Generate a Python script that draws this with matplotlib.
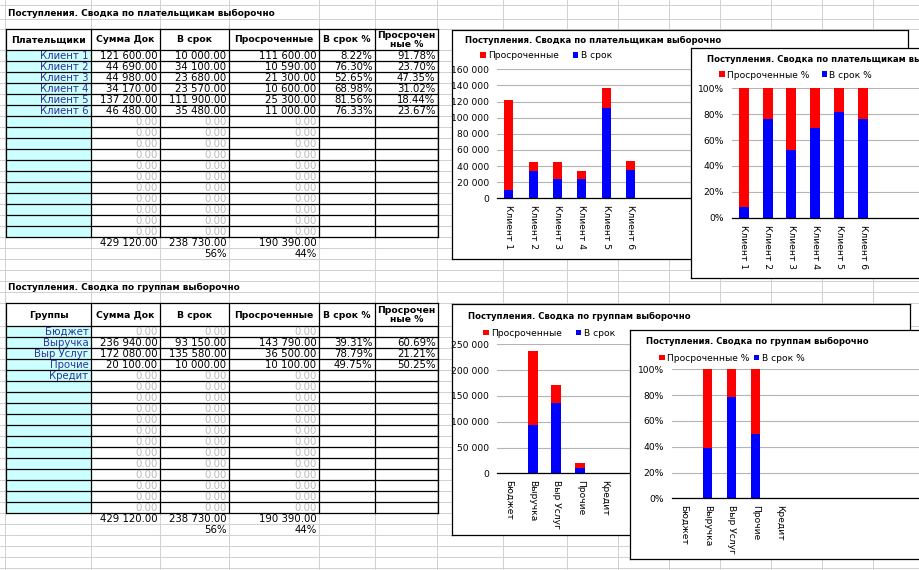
import matplotlib
matplotlib.use("Agg")
import matplotlib.pyplot as plt
from matplotlib.patches import Rectangle
from matplotlib.ticker import FuncFormatter, MultipleLocator

plt.rcParams['font.family'] = ['DejaVu Sans']

W, H = 920, 570

# ---------------- data ----------------
title1 = "Поступления. Сводка по плательщикам выборочно"
title2 = "Поступления. Сводка по группам выборочно"
headers1 = ["Плательщики", "Сумма Док", "В срок", "Просроченные", "В срок %", "Просрочен\nные %"]
headers2 = ["Группы", "Сумма Док", "В срок", "Просроченные", "В срок %", "Просрочен\nные %"]

payers = ["Клиент 1", "Клиент 2", "Клиент 3", "Клиент 4", "Клиент 5", "Клиент 6"]
payer_total = [121600, 44690, 44980, 34170, 137200, 46480]
payer_ontime = [10000, 34100, 23680, 23570, 111900, 35480]
payer_late = [111600, 10590, 21300, 10600, 25300, 11000]
payer_ontime_pct = [8.22, 76.30, 52.65, 68.98, 81.56, 76.33]
payer_late_pct = [91.78, 23.70, 47.35, 31.02, 18.44, 23.67]

groups = ["Бюджет", "Выручка", "Выр Услуг", "Прочие", "Кредит"]
group_total = [0, 236940, 172080, 20100, 0]
group_ontime = [0, 93150, 135580, 10000, 0]
group_late = [0, 143790, 36500, 10100, 0]
group_ontime_pct = [None, 39.31, 78.79, 49.75, None]
group_late_pct = [None, 60.69, 21.21, 50.25, None]

totals = [429120, 238730, 190390]
total_pct = ["56%", "44%"]

legend_abs = ["Просроченные", "В срок"]
legend_pct = ["Просроченные %", "В срок %"]

N_ROWS = 17
RED = "#ff0000"
BLUE = "#0000ff"

# ---------------- figure / sheet ----------------
fig = plt.figure(figsize=(9.2, 5.7), dpi=100)
bg = fig.add_axes([0, 0, 1, 1], zorder=0)
bg.set_xlim(0, W)
bg.set_ylim(H, 0)
bg.axis('off')

grid_c = "#d2d2d2"
col_lines = [5, 91, 160, 229, 319, 375, 437, 503, 567, 618, 669, 720, 771, 822, 873]
row_lines = [5, 19, 29, 50] + [50 + 11 * k for k in range(1, 18)] + [248, 259, 270, 281, 292, 303, 326] \
    + [326 + 11 * k for k in range(1, 18)] + [524, 535, 546, 557, 568]
for x in col_lines:
    bg.plot([x, x], [0, H], color=grid_c, lw=0.75, zorder=0)
for y in row_lines:
    bg.plot([0, W], [y, y], color=grid_c, lw=0.75, zorder=0)

cols = [6, 91, 160, 229, 319, 375, 438]
FS_DATA = 7.3
FS_HEAD = 6.65
FS_TITLE = 6.4
NAME_C = "#30309a"
ZERO_C = "#b8b8b8"


def fmt_num(v):
    return f"{v:,.2f}".replace(",", " ")


def draw_table(y0, y1, headers, names, total, ontime, late, on_pct, late_pct, title, title_y):
    bg.text(8, title_y, title, fontsize=FS_TITLE, fontweight='bold', ha='left', va='center', zorder=3)
    rh = 11
    ybot = y1 + rh * N_ROWS
    bg.add_patch(Rectangle((cols[0], y1), cols[1] - cols[0], ybot - y1, facecolor="#ccffff",
                           edgecolor='none', zorder=1))
    bg.add_patch(Rectangle((cols[0], y0), cols[-1] - cols[0], y1 - y0, facecolor="white",
                           edgecolor='none', zorder=1))
    for y in [y0, y1] + [y1 + rh * k for k in range(1, N_ROWS + 1)]:
        bg.plot([cols[0], cols[-1]], [y, y], color='black', lw=0.9, zorder=2)
    for x in cols:
        bg.plot([x, x], [y0, ybot], color='black', lw=0.9, zorder=2)
    for j, h in enumerate(headers):
        bg.text((cols[j] + cols[j + 1]) / 2, (y0 + y1) / 2 + 0.5, h, fontsize=FS_HEAD,
                fontweight='bold', ha='center', va='center', linespacing=1.05, zorder=3)
    for i in range(N_ROWS):
        yc = y1 + rh * i + rh / 2 + 0.3
        if i < len(names):
            bg.text(cols[1] - 2.5, yc, names[i], fontsize=FS_DATA, color=NAME_C,
                    ha='right', va='center', zorder=3)
            vals = [total[i], ontime[i], late[i]]
            pcts = [on_pct[i], late_pct[i]]
        else:
            vals = [0, 0, 0]
            pcts = [None, None]
        for j, v in enumerate(vals):
            bg.text(cols[j + 2] - 2.5, yc, fmt_num(v), fontsize=FS_DATA,
                    color=(ZERO_C if v == 0 else 'black'), ha='right', va='center', zorder=3)
        for j, p in enumerate(pcts):
            if p is not None:
                bg.text(cols[j + 5] - 2.5, yc, f"{p:.2f}%", fontsize=FS_DATA,
                        ha='right', va='center', zorder=3)
    yt = ybot + rh / 2 + 0.3
    for j, v in enumerate(totals):
        bg.text(cols[j + 2] - 2.5, yt, fmt_num(v), fontsize=FS_DATA, ha='right', va='center', zorder=3)
    for j, p in enumerate(total_pct):
        bg.text(cols[j + 3] - 2.5, yt + rh, p, fontsize=FS_DATA, ha='right', va='center', zorder=3)


draw_table(29, 50, headers1, payers, payer_total, payer_ontime, payer_late,
           payer_ontime_pct, payer_late_pct, title1, 13)
draw_table(303, 326, headers2, groups, group_total, group_ontime, group_late,
           group_ontime_pct, group_late_pct, title2, 287)


# ---------------- charts ----------------
def px_rect(l, t, r, b):
    return [l / W, 1 - b / H, (r - l) / W, (b - t) / H]


FS_CH = 6.6
FS_CH_TITLE = 6.15


def chart(box, plot, spacing, bar_w, cats, bottom_vals, top_vals, ymax, step, yfmt,
          title, title_xy, legend_xy, legend_labels, z, colspacing):
    l, t, r, b = box
    fr = fig.add_axes(px_rect(l, t, r, b), zorder=z)
    fr.set_xlim(l, r)
    fr.set_ylim(b, t)
    fr.set_facecolor('white')
    fr.set_xticks([])
    fr.set_yticks([])
    for s in fr.spines.values():
        s.set_color('black')
        s.set_linewidth(0.9)
    fr.text(title_xy[0], title_xy[1], title, fontsize=FS_CH_TITLE, fontweight='bold',
            ha='left', va='center')

    pl, pt, pr, pb = plot
    ax = fig.add_axes(px_rect(pl, pt, pr, pb), zorder=z + 0.5)
    ax.patch.set_alpha(0)
    xs = list(range(len(cats)))
    bv = [0 if v is None else v for v in bottom_vals]
    tv = [0 if v is None else v for v in top_vals]
    b1 = ax.bar(xs, bv, width=bar_w, color=BLUE, zorder=2)
    b2 = ax.bar(xs, tv, width=bar_w, bottom=bv, color=RED, zorder=2)
    ax.set_xlim(-0.5, (pr - pl) / spacing - 0.5)
    ax.set_ylim(0, ymax)
    ax.yaxis.set_major_locator(MultipleLocator(step))
    ax.yaxis.set_major_formatter(FuncFormatter(yfmt))
    ax.set_xticks(xs)
    ax.set_xticklabels(cats, rotation=-90, fontsize=FS_CH, va='top', ha='center')
    ax.tick_params(axis='y', length=0, pad=5.6, labelsize=FS_CH)
    ax.tick_params(axis='x', length=0, pad=5.0)
    ax.grid(axis='y', color='#b4b4b4', lw=0.8)
    ax.set_axisbelow(True)
    for s in ['left', 'right', 'top']:
        ax.spines[s].set_visible(False)
    ax.spines['bottom'].set_color('black')
    ax.spines['bottom'].set_linewidth(0.9)
    ax.spines['bottom'].set_zorder(3)
    ax.legend([b2, b1], legend_labels, loc='center left',
              bbox_to_anchor=(legend_xy[0] / W, 1 - legend_xy[1] / H),
              bbox_transform=fig.transFigure, ncol=2, frameon=False, fontsize=FS_CH,
              handlelength=0.6, handleheight=0.6, handletextpad=0.25,
              columnspacing=colspacing, borderpad=0, borderaxespad=0)
    return ax


thousands = lambda v, p: f"{v:,.0f}".replace(",", " ")
percent = lambda v, p: f"{v:.0f}%"

# Chart 1: payers absolute
chart((452.5, 30, 908, 259), (496.7, 69.3, 893, 198.3), 24.3, 0.37,
      payers, payer_ontime, payer_late, 160000, 20000, thousands,
      title1, (465, 40.5), (480.5, 55.7), legend_abs, 1, 1.5)
# Chart 2: payers percent
chart((691.5, 48, 945, 278), (731.7, 88.3, 945, 217.7), 23.9, 0.42,
      payers, payer_ontime_pct, payer_late_pct, 100, 20, percent,
      title1, (707, 59.5), (719.5, 75), legend_pct, 2, 1.3)
# Chart 3: groups absolute
chart((452.5, 304, 910, 534.5), (496.7, 344.3, 893, 473.3), 23.9, 0.42,
      groups, group_ontime, group_late, 250000, 50000, thousands,
      title2, (468, 316.7), (483.5, 333.3), legend_abs, 3, 1.5)
# Chart 4: groups percent
chart((630.5, 329.5, 945, 559), (671.7, 369.3, 945, 498.3), 24.0, 0.37,
      groups, group_ontime_pct, group_late_pct, 100, 20, percent,
      title2, (645.7, 341.7), (659, 358.3), legend_pct, 4, 0.5)

fig.savefig("out.png", dpi=100)
